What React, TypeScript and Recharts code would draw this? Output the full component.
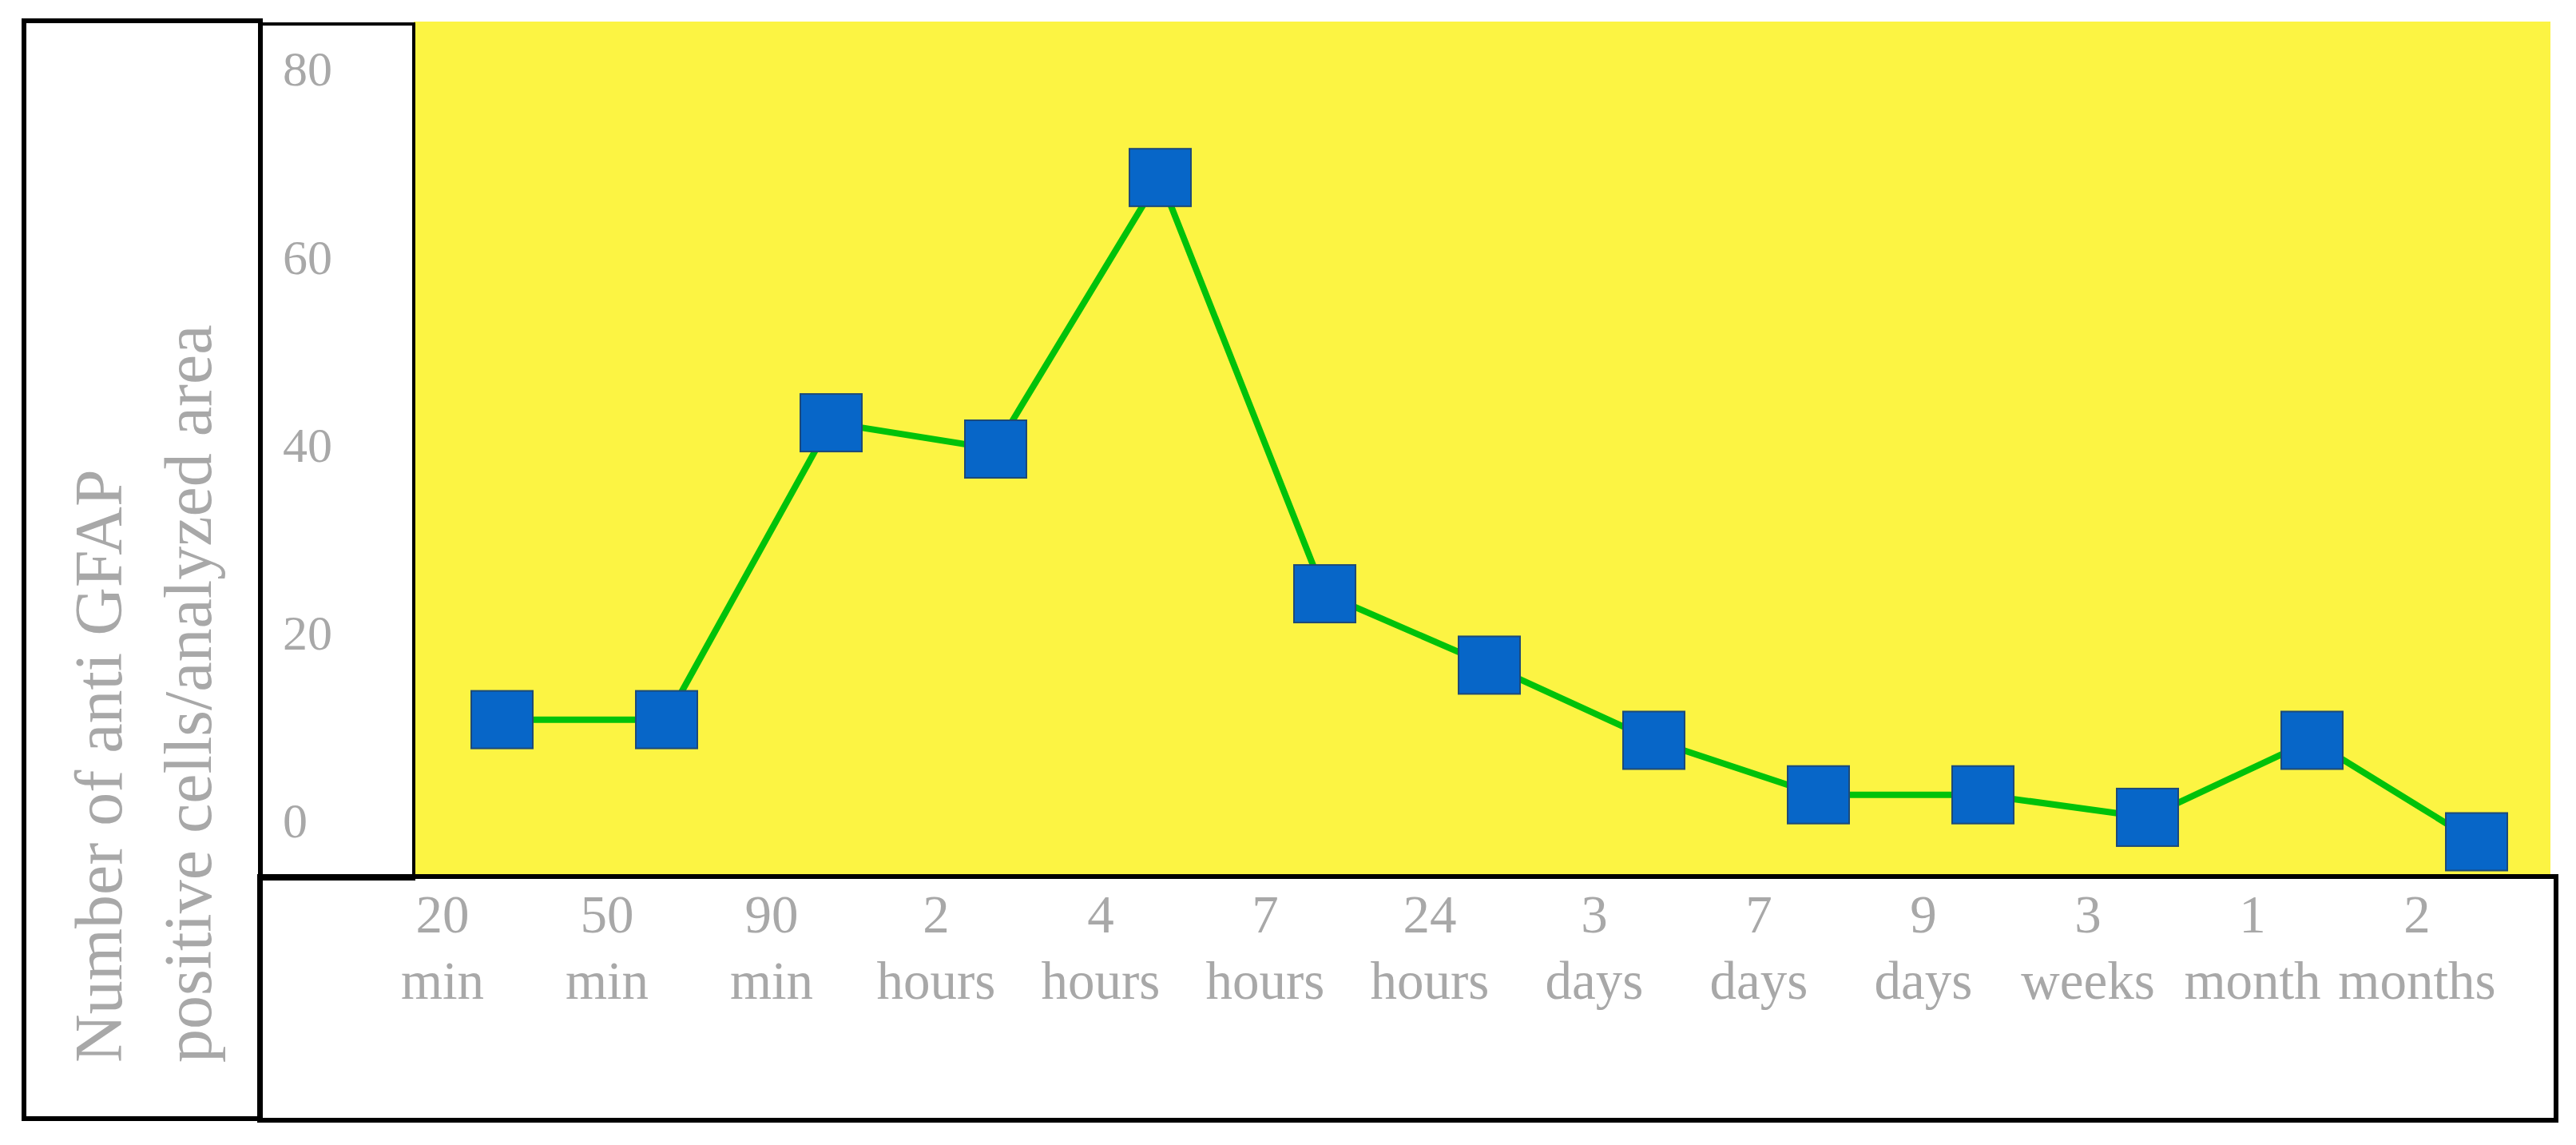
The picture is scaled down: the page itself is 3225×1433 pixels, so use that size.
import React from 'react';
import { CartesianGrid, Line, LineChart, XAxis, YAxis } from 'recharts';

// time points after injury
const timeNumbers = ['20', '50', '90', '2', '4', '7', '24', '3', '7', '9', '3', '1', '2'];
const timeUnits = ['min', 'min', 'min', 'hours', 'hours', 'hours', 'hours', 'days', 'days', 'days', 'weeks', 'month', 'months'];
// anti GFAP positive cells per analyzed area
const gfapCounts = [10.7, 10.7, 42.3, 39.5, 68.4, 24.1, 16.5, 8.5, 2.7, 2.7, 0.3, 8.5, -2.3];
const yTicks = [0, 20, 40, 60, 80];

const data = timeNumbers.map((n, i) => ({
  time: `${n} ${timeUnits[i]}`,
  count: gfapCounts[i],
}));

const GREY = '#a8a8a8';
const SERIF = '"Liberation Serif", "DejaVu Serif", serif';

const XTick = (props: any) => {
  const { x, y, payload } = props;
  const str = String(payload.value);
  const cut = str.indexOf(' ');
  const num = str.slice(0, cut);
  const unit = str.slice(cut + 1);
  return (
    <g>
      <text x={x - 74} y={y + 62} textAnchor="middle" fill={GREY} fontSize={67} fontFamily={SERIF}>
        {num}
      </text>
      <text x={x - 74} y={y + 145} textAnchor="middle" fill={GREY} fontSize={67} fontFamily={SERIF}>
        {unit}
      </text>
    </g>
  );
};

const YTick = (props: any) => {
  const { x, y, payload } = props;
  return (
    <text x={x - 156} y={y} dy="0.35em" textAnchor="start" fill={GREY} fontSize={62} fontFamily={SERIF}>
      {payload.value}
    </text>
  );
};

const YTitle = () => (
  <g fill={GREY} fontSize={84} fontFamily={SERIF}>
    <text x={144} y={1322} transform="rotate(-90, 144, 1322)" textAnchor="start">
      Number of anti GFAP
    </text>
    <text x={256} y={1322} transform="rotate(-90, 256, 1322)" textAnchor="start">
      positive cells/analyzed area
    </text>
  </g>
);

const SquareDot = (props: any) => {
  const { cx, cy, index } = props;
  if (cx == null || cy == null) return null;
  return (
    <rect
      key={`sq-${index}`}
      x={cx - 38}
      y={cy - 36}
      width={77}
      height={72}
      fill="#0766c8"
      stroke="#1d4a78"
      strokeWidth={2}
    />
  );
};

const box = (left: number, top: number, width: number, height: number, border: number): React.CSSProperties => ({
  position: 'absolute',
  left,
  top,
  width,
  height,
  border: `${border}px solid #000`,
  boxSizing: 'border-box',
  pointerEvents: 'none',
});

export default function App() {
  return (
    <div style={{ position: 'relative', width: 3209, height: 1417 }}>
      <div style={{ position: 'absolute', left: 0, top: 0 }}>
        <LineChart width={3209} height={1417} data={data} margin={{ top: 19, right: 24, bottom: 0, left: 0 }}>
          <CartesianGrid horizontal={false} vertical={false} fill="#fcf443" />
          <XAxis
            dataKey="time"
            interval={0}
            axisLine={false}
            tickLine={false}
            height={328}
            padding={{ left: 110, right: 93 }}
            tick={<XTick />}
          />
          <YAxis
            domain={[-6, 85]}
            ticks={yTicks}
            axisLine={false}
            tickLine={false}
            width={510}
            tick={<YTick />}
            label={{ content: <YTitle /> }}
          />
          <Line
            type="linear"
            dataKey="count"
            stroke="#00c20a"
            strokeWidth={8}
            dot={<SquareDot />}
            activeDot={false}
            isAnimationActive={false}
          />
        </LineChart>
      </div>
      <div style={box(19, 15, 302, 1380, 6)} />
      <div style={box(315, 20, 197, 1074, 4)} />
      <div style={box(314, 1086, 2881, 311, 6)} />
    </div>
  );
}
